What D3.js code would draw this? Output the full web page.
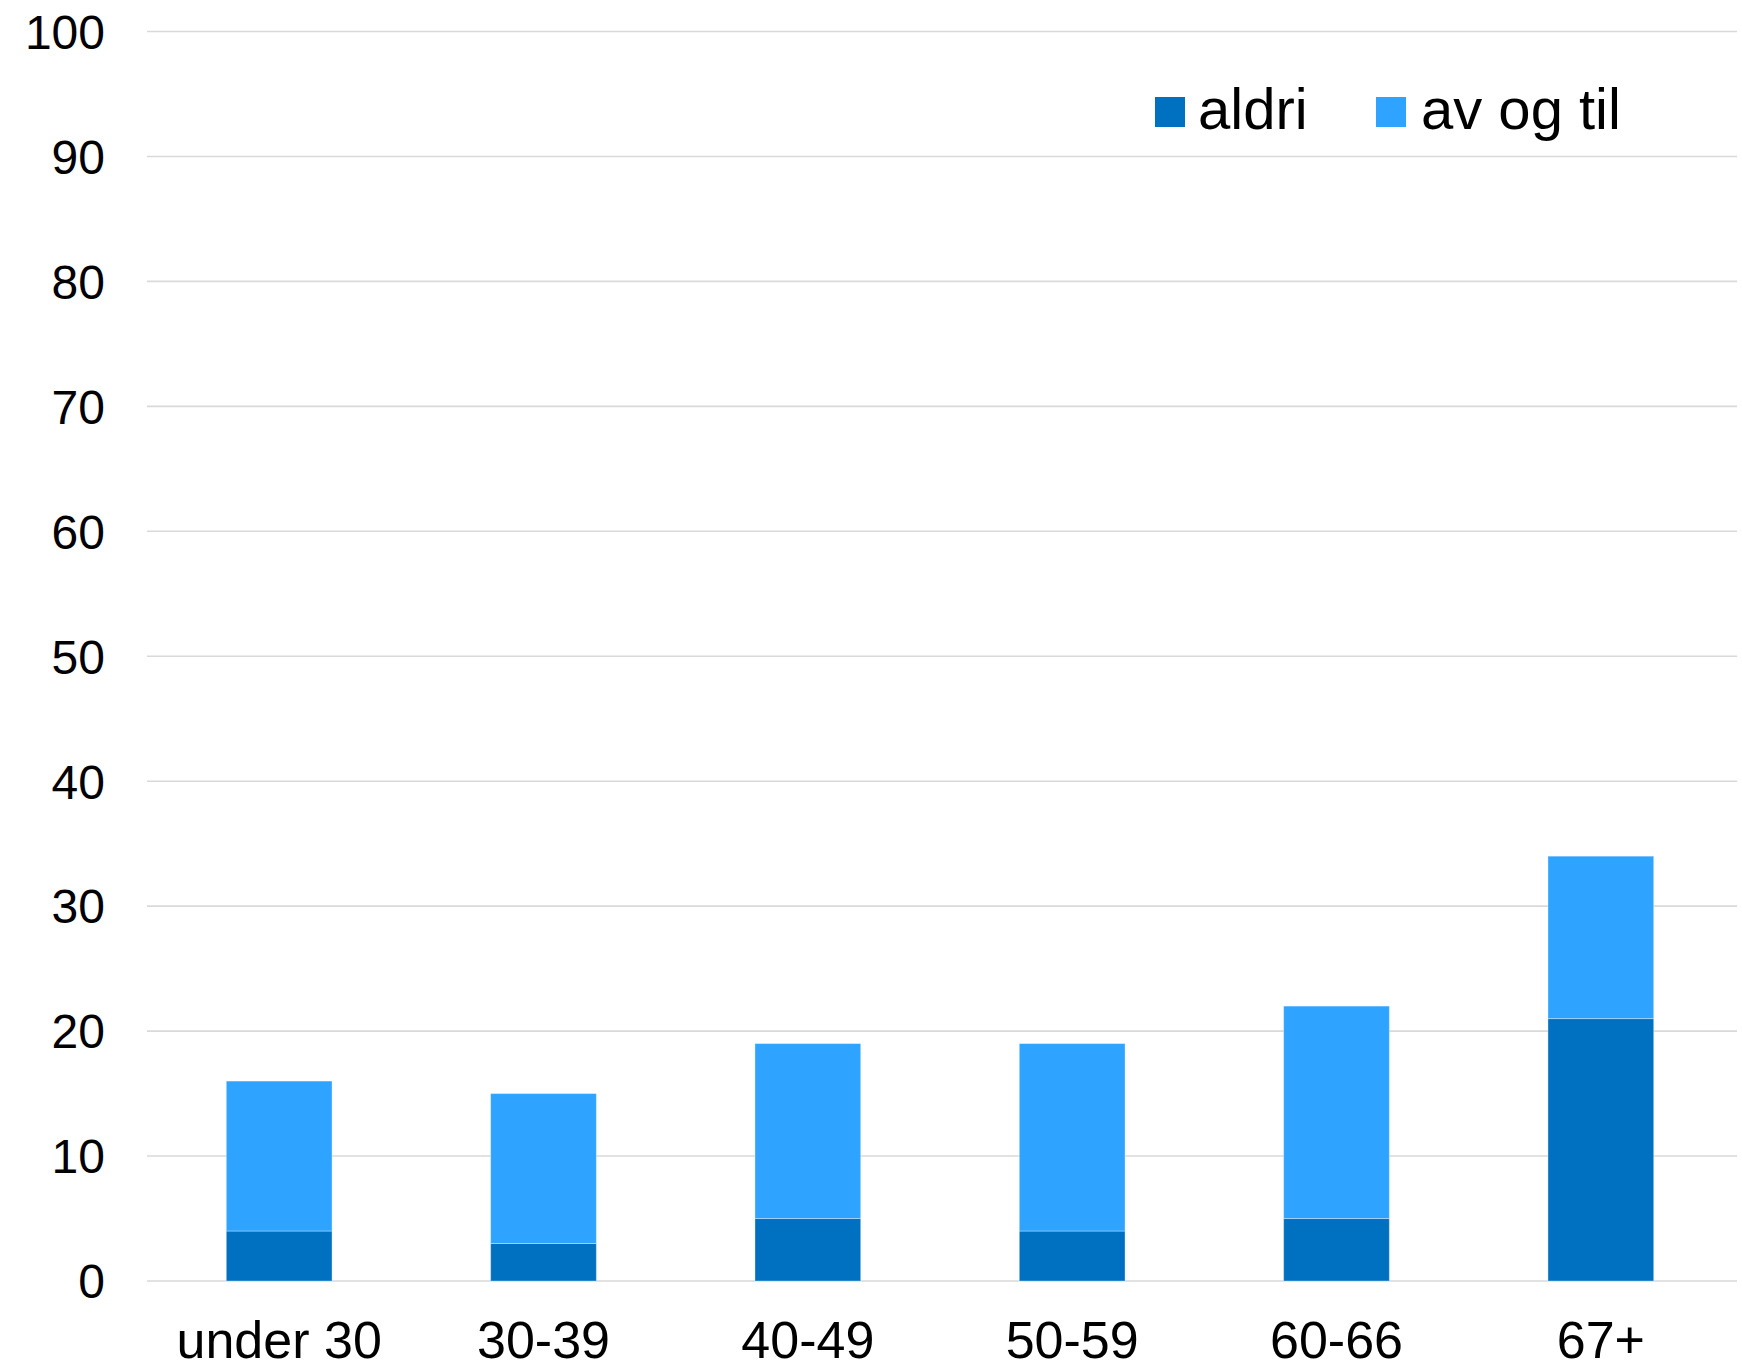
<!DOCTYPE html>
<html>
<head>
<meta charset="utf-8">
<script src="https://cdn.jsdelivr.net/npm/d3@7"></script>
<style>
  html, body { margin: 0; padding: 0; background: #ffffff; }
  svg { display: block; }
  text { font-family: "Liberation Sans", Arial, sans-serif; fill: #000; }
</style>
</head>
<body>
<svg id="chart" width="1742" height="1369"></svg>
<script>
// Age groups and the two stacked answer series (percent)
const categories = ["under 30", "30-39", "40-49", "50-59", "60-66", "67+"];
const aldri    = [4, 3, 5, 4, 5, 21];
const avOgTil  = [12, 12, 14, 15, 17, 13];
const seriesNames = ["aldri", "av og til"];
const seriesColors = ["#0070C0", "#2EA3FF"];
const yTicks = [0, 10, 20, 30, 40, 50, 60, 70, 80, 90, 100];

const svg = d3.select("#chart");
const plot = { left: 147, right: 1733, top: 31.5, bottom: 1281 };

const x = d3.scaleBand()
  .domain(categories)
  .range([plot.left, plot.right])
  .paddingInner(0.6)
  .paddingOuter(0.3);

const y = d3.scaleLinear()
  .domain([0, 100])
  .range([plot.bottom, plot.top]);

// Horizontal gridlines
svg.append("g")
  .selectAll("line")
  .data(yTicks)
  .join("line")
  .attr("x1", plot.left)
  .attr("x2", plot.right + 4)
  .attr("y1", d => y(d))
  .attr("y2", d => y(d))
  .attr("stroke", "#d9d9d9")
  .attr("stroke-width", 1.6);

// Y axis labels
const yAxis = d3.axisLeft(y).tickValues(yTicks).tickSize(0).tickPadding(0);
const yg = svg.append("g")
  .attr("transform", `translate(${105},0)`)
  .call(yAxis);
yg.select(".domain").remove();
yg.selectAll("text")
  .attr("font-size", 48)
  .attr("dy", "0.35em")
  .style("font-family", "'Liberation Sans', Arial, sans-serif")
  .attr("fill", "#000");

// Stacked bars
const rows = categories.map((c, i) => ({ cat: c, "aldri": aldri[i], "av og til": avOgTil[i] }));
const stacked = d3.stack().keys(seriesNames)(rows);

svg.append("g")
  .selectAll("g")
  .data(stacked)
  .join("g")
  .attr("fill", (d, i) => seriesColors[i])
  .selectAll("rect")
  .data(d => d)
  .join("rect")
  .attr("x", d => x(d.data.cat))
  .attr("width", x.bandwidth())
  .attr("y", d => y(d[1]))
  .attr("height", d => y(d[0]) - y(d[1]))
  .attr("stroke", "rgba(255,255,255,0.35)")
  .attr("stroke-width", 1);

// X axis labels
const xAxis = d3.axisBottom(x).tickSize(0).tickPadding(0);
const xg = svg.append("g")
  .attr("transform", `translate(0,${1358})`)
  .call(xAxis);
xg.select(".domain").remove();
xg.selectAll("text")
  .attr("font-size", 52)
  .attr("dy", 0)
  .attr("y", 0)
  .style("font-family", "'Liberation Sans', Arial, sans-serif")
  .attr("fill", "#000");

// Legend
const legendItems = [
  { name: seriesNames[0], color: seriesColors[0], sx: 1155, tx: 1198 },
  { name: seriesNames[1], color: seriesColors[1], sx: 1376, tx: 1421 }
];
const lg = svg.append("g");
legendItems.forEach(it => {
  lg.append("rect")
    .attr("x", it.sx).attr("y", 97)
    .attr("width", 30).attr("height", 30)
    .attr("fill", it.color);
  lg.append("text")
    .attr("x", it.tx).attr("y", 129)
    .attr("font-size", 58)
    .text(it.name);
});
</script>
</body>
</html>
